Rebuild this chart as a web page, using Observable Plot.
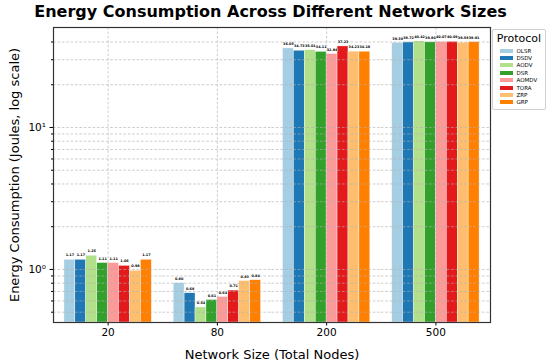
<!DOCTYPE html>
<html>
<head>
<meta charset="utf-8">
<script src="https://cdn.jsdelivr.net/npm/d3@7"></script>
<script src="https://cdn.jsdelivr.net/npm/@observablehq/plot@0.6"></script>
<style>
  body { margin: 0; background: #fff; font-family: "DejaVu Sans", sans-serif; }
  #wrap { position: relative; width: 550px; height: 364px; overflow: hidden; }
  #title { height: 20px; line-height: 23px; font-size: 16px; font-weight: bold; text-align: center; width: 541px; white-space: nowrap; }
  #legend { position: absolute; left: 492px; top: 29px; width: 52px; padding: 2px 0 3px 0; border: 1px solid #d0d0d0; border-radius: 2px; background: rgba(255,255,255,0.85); }
  #legend .lt { font-size: 11px; text-align: center; line-height: 13px; margin-bottom: 2px; }
  #legend .row { display: flex; align-items: center; height: 7.4px; font-size: 5.5px; }
  #legend .sw { width: 12.5px; height: 4px; margin-left: 7px; margin-right: 4px; }
  g[aria-label="y-axis label"] text, g[aria-label="fx-axis label"] text { font-size: 13px; }
</style>
</head>
<body>
<div id="wrap">
  <div id="title">Energy Consumption Across Different Network Sizes</div>
  <div id="chart"></div>
  <div id="legend"></div>
</div>
<script>
const sizes = ["20", "80", "200", "500"];
const protocols = ["OLSR", "DSDV", "AODV", "DSR", "AOMDV", "TORA", "ZRP", "GRP"];
const colors = ["#a6cee3", "#1f78b4", "#b2df8a", "#33a02c", "#fb9a99", "#e31a1c", "#fdbf6f", "#ff7f00"];
const values20 = [1.17, 1.17, 1.25, 1.11, 1.11, 1.06, 0.98, 1.17];
const values80 = [0.80, 0.68, 0.54, 0.61, 0.64, 0.71, 0.83, 0.84];
const values200 = [36.05, 34.73, 35.01, 34.11, 32.94, 37.23, 34.23, 34.18];
const values500 = [39.39, 39.72, 40.42, 39.80, 40.07, 40.09, 39.58, 39.91];
const yMajorTicks = [1, 10];
const yMinorTicks = [0.5, 0.6, 0.7, 0.8, 0.9, 2, 3, 4, 5, 6, 7, 8, 9, 20, 30, 40];
const yDomain = [0.423, 50.6];

const series = [values20, values80, values200, values500];
const data = sizes.flatMap((s, i) => protocols.map((p, j) => ({size: s, protocol: p, value: series[i][j]})));

const W = 550, H = 344, mL = 53, mR = 60, mT = 7, mB = 42;
// group occupies 80% of each facet, 10% empty on each side
const groupShare = 0.8;
const xPadOuter = protocols.length * (1 - groupShare) / (2 * groupShare);

const sup = {"0": "⁰", "1": "¹", "2": "²", "-": "⁻"};
const fmtMajor = d => "10" + String(Math.round(Math.log10(d))).split("").map(c => sup[c]).join("");

const gridStyle = {stroke: "#b0b0b0", strokeDasharray: "2.6,1.8", strokeWidth: 0.8, strokeOpacity: 0.8};

const chart = Plot.plot({
  width: W,
  height: H,
  marginTop: mT,
  marginBottom: mB,
  marginLeft: mL,
  marginRight: mR,
  style: {fontFamily: "DejaVu Sans", fontSize: "10.5px", color: "#000", background: "transparent"},
  fx: {domain: sizes, paddingInner: 0, paddingOuter: 0, round: false, label: "Network Size (Total Nodes)"},
  x: {domain: protocols, paddingInner: 0, paddingOuter: xPadOuter, round: false, axis: null},
  y: {type: "log", domain: yDomain, label: "Energy Consumption (Joules, log scale)"},
  color: {domain: protocols, range: colors},
  marks: [
    Plot.barY(data, {fx: "size", x: "protocol", y1: yDomain[0], y2: "value", fill: "protocol", stroke: "white", strokeWidth: 0.4}),
    Plot.ruleY(yMinorTicks.concat(yMajorTicks), gridStyle),
    Plot.gridFx({...gridStyle}),
    Plot.text(data, {fx: "size", x: "protocol", y: "value", text: d => d.value.toFixed(2), dy: -4.5, fontSize: 3.4, fontWeight: "bold", fill: "#000", stroke: "white", strokeWidth: 1}),
    Plot.axisY({ticks: yMajorTicks, tickFormat: fmtMajor, tickSize: 3.5, tickPadding: 4, label: "Energy Consumption (Joules, log scale)", labelAnchor: "center", labelArrow: "none", labelOffset: 44}),
    Plot.axisY({ticks: yMinorTicks, tickFormat: () => "", tickSize: 2, label: null}),
    Plot.axisFx({anchor: "bottom", tickSize: 3.5, tickPadding: 3, label: "Network Size (Total Nodes)", labelAnchor: "center", labelArrow: "none", labelOffset: 36}),
    Plot.frame({facet: "super", stroke: "#333", strokeWidth: 1.2})
  ]
});
document.getElementById("chart").appendChild(chart);

const legend = document.getElementById("legend");
const lt = document.createElement("div");
lt.className = "lt";
lt.textContent = "Protocol";
legend.appendChild(lt);
protocols.forEach((p, i) => {
  const row = document.createElement("div");
  row.className = "row";
  const sw = document.createElement("span");
  sw.className = "sw";
  sw.style.background = colors[i];
  const tx = document.createElement("span");
  tx.textContent = p;
  row.appendChild(sw);
  row.appendChild(tx);
  legend.appendChild(row);
});
</script>
</body>
</html>
